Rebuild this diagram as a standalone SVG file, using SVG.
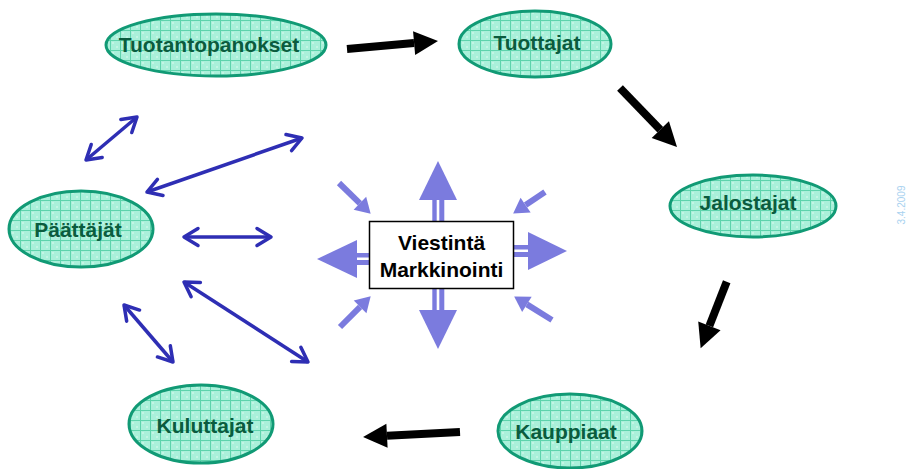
<svg xmlns="http://www.w3.org/2000/svg" width="908" height="469" viewBox="0 0 908 469">
<style>
.node{fill:url(#grid);stroke:#119a75;stroke-width:3}
.nt{font-family:"Liberation Sans",Arial,sans-serif;font-weight:bold;font-size:21px;fill:#0b5c3e;text-anchor:middle}
.ct{font-family:"Liberation Sans",Arial,sans-serif;font-weight:bold;font-size:21px;fill:#000;text-anchor:middle}
.blk{stroke:#000;stroke-width:8;fill:none;marker-end:url(#bhead)}
.blu{stroke:#2e2eb4;stroke-width:3.5;fill:none;marker-start:url(#chev);marker-end:url(#chev)}
.lav{fill:#7b7bde}
.lavl{stroke:#7b7bde;stroke-width:6;fill:none;marker-end:url(#lhead)}
</style>
<defs>
<pattern id="grid" patternUnits="userSpaceOnUse" width="10" height="10">
<rect width="10" height="10" fill="#aaf0da"/>
<circle cx="3" cy="3" r="0.7" fill="#effff8"/>
<circle cx="7" cy="7" r="0.7" fill="#effff8"/>
<path d="M0,0.5H10M0.5,0V10" stroke="#5ed3ac" stroke-width="1"/>
</pattern>
<marker id="bhead" markerUnits="userSpaceOnUse" markerWidth="30" markerHeight="30" viewBox="-2 -15 30 30" refX="0" refY="0" orient="auto">
<path d="M0,-12 L24,0 L0,12Z" fill="#000"/>
</marker>
<marker id="lhead" markerUnits="userSpaceOnUse" markerWidth="24" markerHeight="24" viewBox="-2 -12 24 24" refX="0" refY="0" orient="auto">
<path d="M0,-9 L15,0 L0,9Z" fill="#7b7bde"/>
</marker>
<marker id="chev" markerUnits="userSpaceOnUse" markerWidth="26" markerHeight="26" viewBox="-19 -13 26 26" refX="0" refY="0" orient="auto-start-reverse">
<path d="M-14,-8.5 L0,0 L-14,8.5" fill="none" stroke="#2e2eb4" stroke-width="3.5" stroke-linecap="round" stroke-linejoin="round"/>
</marker>
</defs>
<rect width="908" height="469" fill="#fff"/>

<g id="connectors">
<line class="blk" x1="347" y1="49" x2="414.1" y2="43.1"/>
<line class="blk" x1="620" y1="88" x2="660.3" y2="129.7"/>
<line class="blk" x1="726.7" y1="281.7" x2="709.4" y2="325.9"/>
<line class="blk" x1="460" y1="432" x2="387" y2="435.8"/>

<line class="blu" x1="86" y1="160" x2="137" y2="117"/>
<line class="blu" x1="147" y1="192" x2="302" y2="138"/>
<line class="blu" x1="184" y1="237" x2="271" y2="237"/>
<line class="blu" x1="184" y1="282" x2="308" y2="362"/>
<line class="blu" x1="124" y1="305" x2="173" y2="362"/>

<line class="lavl" x1="339" y1="183" x2="359.9" y2="203.3"/>
<line class="lavl" x1="545" y1="192" x2="525.6" y2="205.1"/>
<line class="lavl" x1="340" y1="327" x2="360.1" y2="306.9"/>
<line class="lavl" x1="552" y1="320" x2="526.9" y2="304.4"/>

<polygon class="lav" points="419,200 457,200 438,161"/>
<rect class="lav" x="432.3" y="199" width="4.4" height="22"/>
<rect class="lav" x="439.3" y="199" width="5" height="22"/>
<polygon class="lav" points="419,310 457,310 438,349"/>
<rect class="lav" x="432.3" y="289" width="4.4" height="22"/>
<rect class="lav" x="439.3" y="289" width="5" height="22"/>
<polygon class="lav" points="528,232 528,270 567,251"/>
<rect class="lav" x="513" y="245" width="16" height="4.5"/>
<rect class="lav" x="513" y="252" width="16" height="5"/>
<polygon class="lav" points="357,240 357,278 317,259"/>
<rect class="lav" x="356" y="253" width="14" height="4.5"/>
<rect class="lav" x="356" y="260" width="14" height="5"/>
</g>

<g id="center">
<rect x="369.5" y="221.5" width="144" height="67" fill="#fff" stroke="#000" stroke-width="1.5"/>
<text class="ct" x="441.5" y="250">Viestintä</text>
<text class="ct" x="441.5" y="277">Markkinointi</text>
</g>

<g id="tuotantopanokset">
<ellipse class="node" cx="216" cy="45" rx="110" ry="31"/>
<text class="nt" x="209" y="52">Tuotantopanokset</text>
</g>
<g id="tuottajat">
<ellipse class="node" cx="535" cy="44" rx="76" ry="33"/>
<text class="nt" x="537" y="50">Tuottajat</text>
</g>
<g id="jalostajat">
<ellipse class="node" cx="753" cy="206" rx="83" ry="31"/>
<text class="nt" x="748" y="210">Jalostajat</text>
</g>
<g id="paattajat">
<ellipse class="node" cx="81" cy="229" rx="72" ry="38"/>
<text class="nt" x="78" y="237">Päättäjät</text>
</g>
<g id="kuluttajat">
<ellipse class="node" cx="201" cy="424" rx="72" ry="39"/>
<text class="nt" x="205" y="433">Kuluttajat</text>
</g>
<g id="kauppiaat">
<ellipse class="node" cx="570" cy="431" rx="72" ry="37"/>
<text class="nt" x="566" y="439">Kauppiaat</text>
</g>

<text x="905" y="205" transform="rotate(-90 905 205)" font-family="'Liberation Sans',Arial,sans-serif" font-size="10" fill="#a9d2f0" text-anchor="middle">3.4.2009</text>
</svg>
